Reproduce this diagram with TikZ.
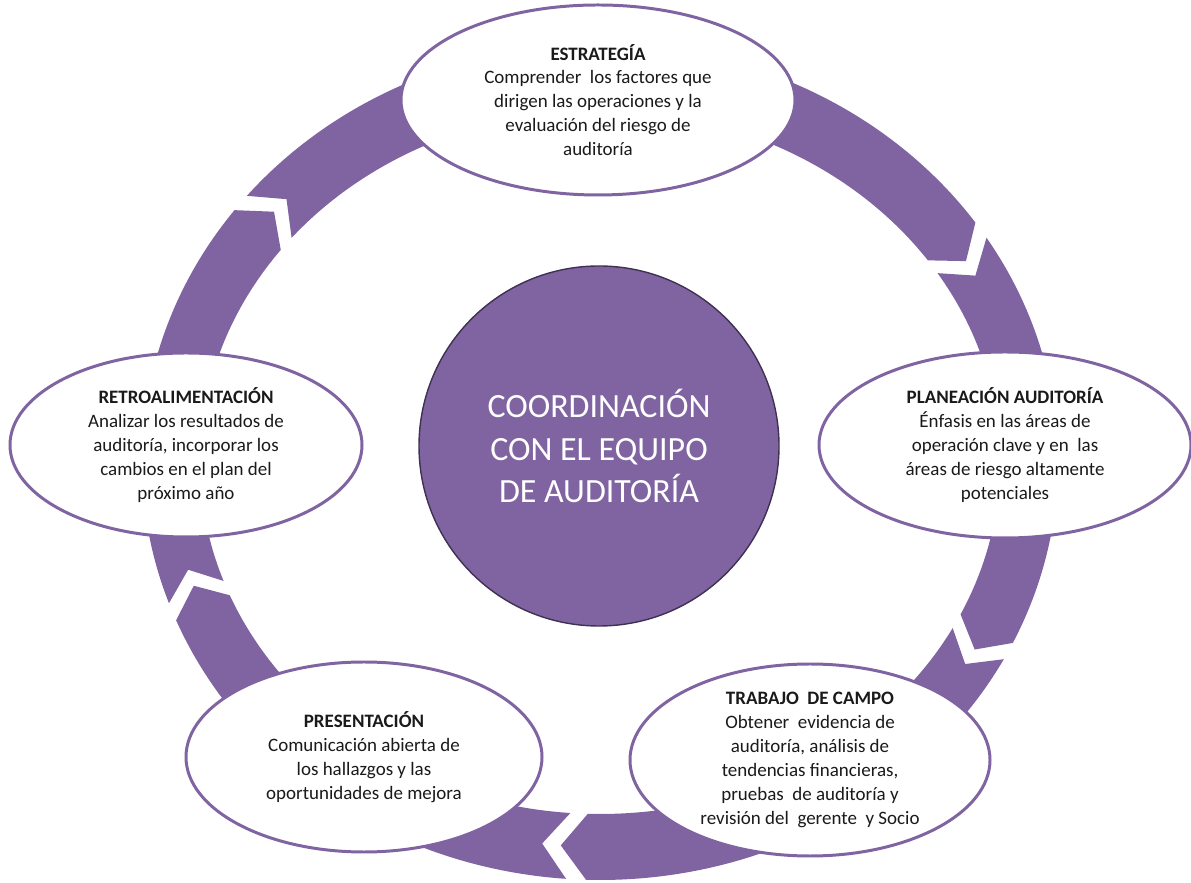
\documentclass[tikz,border=0pt]{standalone}
\usepackage{fontspec}
\setmainfont{Carlito}
\usetikzlibrary{shapes.geometric}

\definecolor{ringpurple}{HTML}{8064A2}
\definecolor{hubedge}{HTML}{3F3151}
\definecolor{inktext}{HTML}{1A1A1A}

\tikzset{
  stage/.style={ellipse, draw=ringpurple, line width=1.7pt, fill=white,
    inner sep=0pt, align=center, text=inktext,
    font=\fontsize{10.8}{13.6}\selectfont},
  hub/.style={circle, draw=hubedge, line width=0.8pt, fill=ringpurple,
    minimum size=7.2cm, inner sep=0pt, align=center, text=white,
    font=\fontsize{19.3}{24.4}\selectfont},
  ringpiece/.style={fill=ringpurple}
}

\begin{document}
\begin{tikzpicture}
        \useasboundingbox (0,0) rectangle (23.82,17.64);
        % ring of five arc arrows (tail angle / head angle)
        \begin{scope}[shift={(12,8.4)}]
        \foreach \ta/\tb in {140.45/34.95, 32.45/-25.65, -28.15/-91.75, -94.25/-157.75, -160.25/-217.05}
          \fill[ringpiece] (\ta:9.16 and 8.36) arc[start angle=\ta, end angle=\tb, x radius=9.16, y radius=8.36]
            -- (\tb-3.5:8.58 and 7.70) -- (\tb:8.0 and 7.04)
            arc[start angle=\tb, end angle=\ta, x radius=8.0, y radius=7.04]
            -- (\ta-3.5:8.58 and 7.70) -- cycle;
        \end{scope}
        \node[hub] (hub) at (11.98,8.72) {COORDINACIÓN\\CON EL EQUIPO\\DE AUDITORÍA};
        \node[stage, minimum width=7.88cm, minimum height=3.8cm] (estr) at (11.96,15.64)
          {\textbf{ESTRATEGÍA}\\Comprender\ \ los factores que\\dirigen las operaciones y la\\evaluación del riesgo de\\auditoría};
        \node[stage, minimum width=7.44cm, minimum height=3.72cm] (plan) at (20.10,8.74)
          {\textbf{PLANEACIÓN AUDITORÍA}\\Énfasis en las áreas de\\operación clave y en\ \ las\\áreas de riesgo altamente\\potenciales};
        \node[stage, minimum width=7.2cm, minimum height=3.84cm] (trab) at (16.20,2.44)
          {\textbf{TRABAJO\ \ DE CAMPO}\\Obtener\ \ evidencia de\\auditoría, análisis de\\tendencias financieras,\\pruebas\ \ de auditoría y\\revisión del\ \ gerente\ \ y Socio};
        \node[stage, minimum width=7.12cm, minimum height=3.8cm] (pres) at (7.28,2.50)
          {\textbf{PRESENTACIÓN}\\Comunicación abierta de\\los hallazgos y las\\oportunidades de mejora};
        \node[stage, minimum width=7.04cm, minimum height=3.68cm] (retr) at (3.72,8.74)
          {\textbf{RETROALIMENTACIÓN}\\Analizar los resultados de\\auditoría, incorporar los\\cambios en el plan del\\próximo año};
\end{tikzpicture}
\end{document}
